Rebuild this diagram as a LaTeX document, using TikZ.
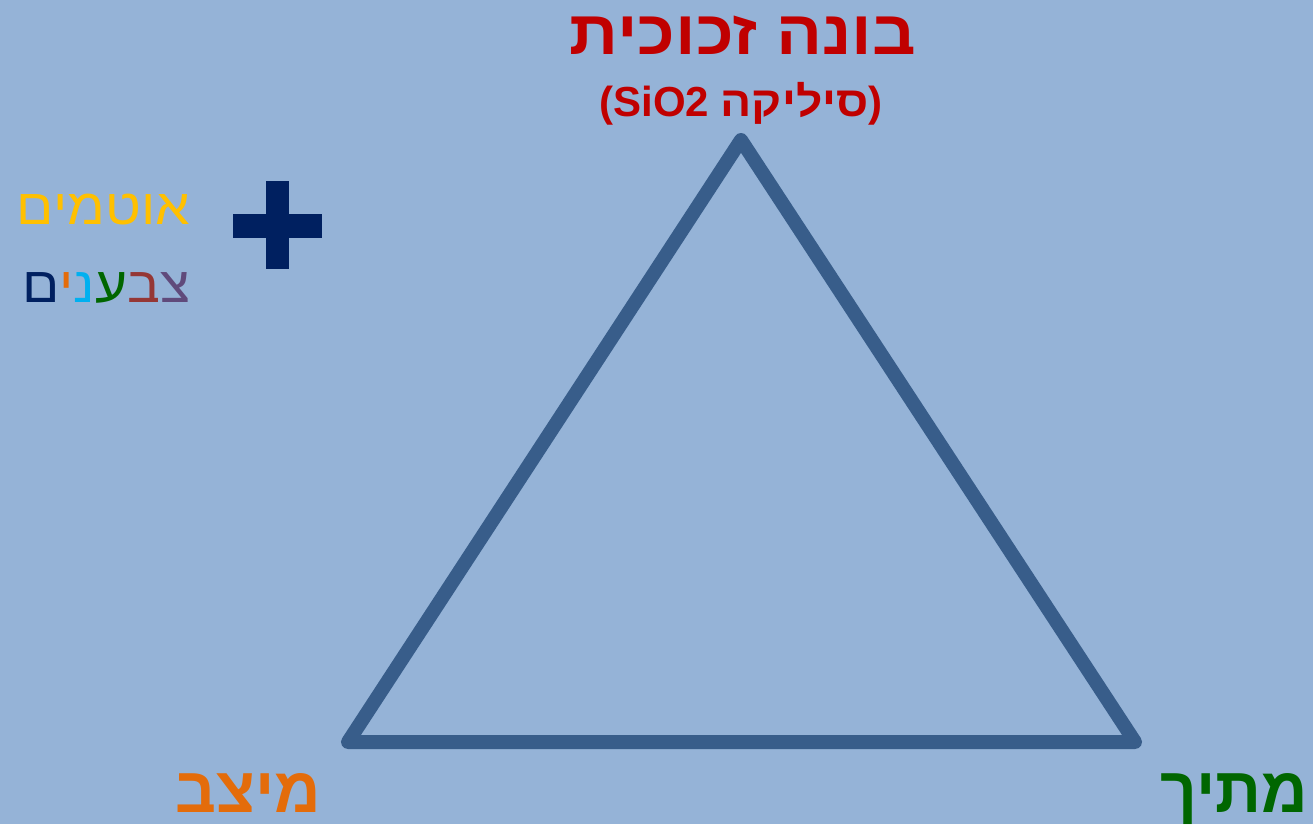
\documentclass[tikz,border=0pt]{standalone}
\usepackage{fontspec}
\newfontfamily\heb[Script=Hebrew]{Liberation Sans}
\newfontfamily\hebw[Script=Hebrew,FakeStretch=1.1]{Liberation Sans}
\newfontfamily\lat{Liberation Sans}
\TeXXeTstate=1
\definecolor{bg}{HTML}{95B3D7}
\definecolor{tri}{HTML}{385D8A}
\definecolor{titlered}{HTML}{C00000}
\definecolor{orng}{HTML}{E46C0A}
\definecolor{grn}{HTML}{006600}
\definecolor{ylw}{HTML}{FFC000}
\definecolor{navy}{HTML}{002060}
\definecolor{purp}{HTML}{604A7B}
\definecolor{brick}{HTML}{953735}
\definecolor{sky}{HTML}{00B0F0}
\begin{document}
\begin{tikzpicture}[x=1pt,y=-1pt,
  lbl/.style={inner sep=0pt,outer sep=0pt},
  big/.style={lbl,font=\hebw\bfseries\fontsize{62}{70}\selectfont},
  corner/.style={lbl,font=\heb\bfseries\fontsize{64}{70}\selectfont},
  mid/.style={lbl,font=\bfseries\fontsize{42}{48}\selectfont},
  side/.style={lbl,font=\hebw\fontsize{50}{60}\selectfont}]
\fill[bg] (0,0) rectangle (1313,824);
\useasboundingbox (0,0) rectangle (1313,824);
\coordinate (top) at (741,140);
\coordinate (bl) at (348,742);
\coordinate (br) at (1135,742);
\draw[tri,line width=14pt,line join=round,line cap=round] (top) -- (bl) -- (br) -- cycle;
\node[big,titlered,anchor=base] (title) at (743,55) {\beginR בונה זכוכית\endR};
\node[mid,titlered,anchor=base] (sub) at (741,117) {\lat(SiO2 {\hebw\beginR סיליקה\endR})};
\node[side,ylw,anchor=base east] (atm) at (190,224) {\beginR אוטמים\endR};
\node[side,anchor=base east] (clr) at (190,302) {\textcolor{navy}{ם}\textcolor{orng}{י}\textcolor{sky}{נ}\textcolor{grn}{ע}\textcolor{brick}{ב}\textcolor{purp}{צ}};
\fill[navy] (266,181) rectangle (289,269);
\fill[navy] (233,214) rectangle (322,238);
\node[corner,orng,anchor=base east] (stab) at (321,812) {\beginR מיצב\endR};
\node[corner,grn,anchor=base east] (melt) at (1308,812) {\beginR מתיך\endR};
\end{tikzpicture}
\end{document}
